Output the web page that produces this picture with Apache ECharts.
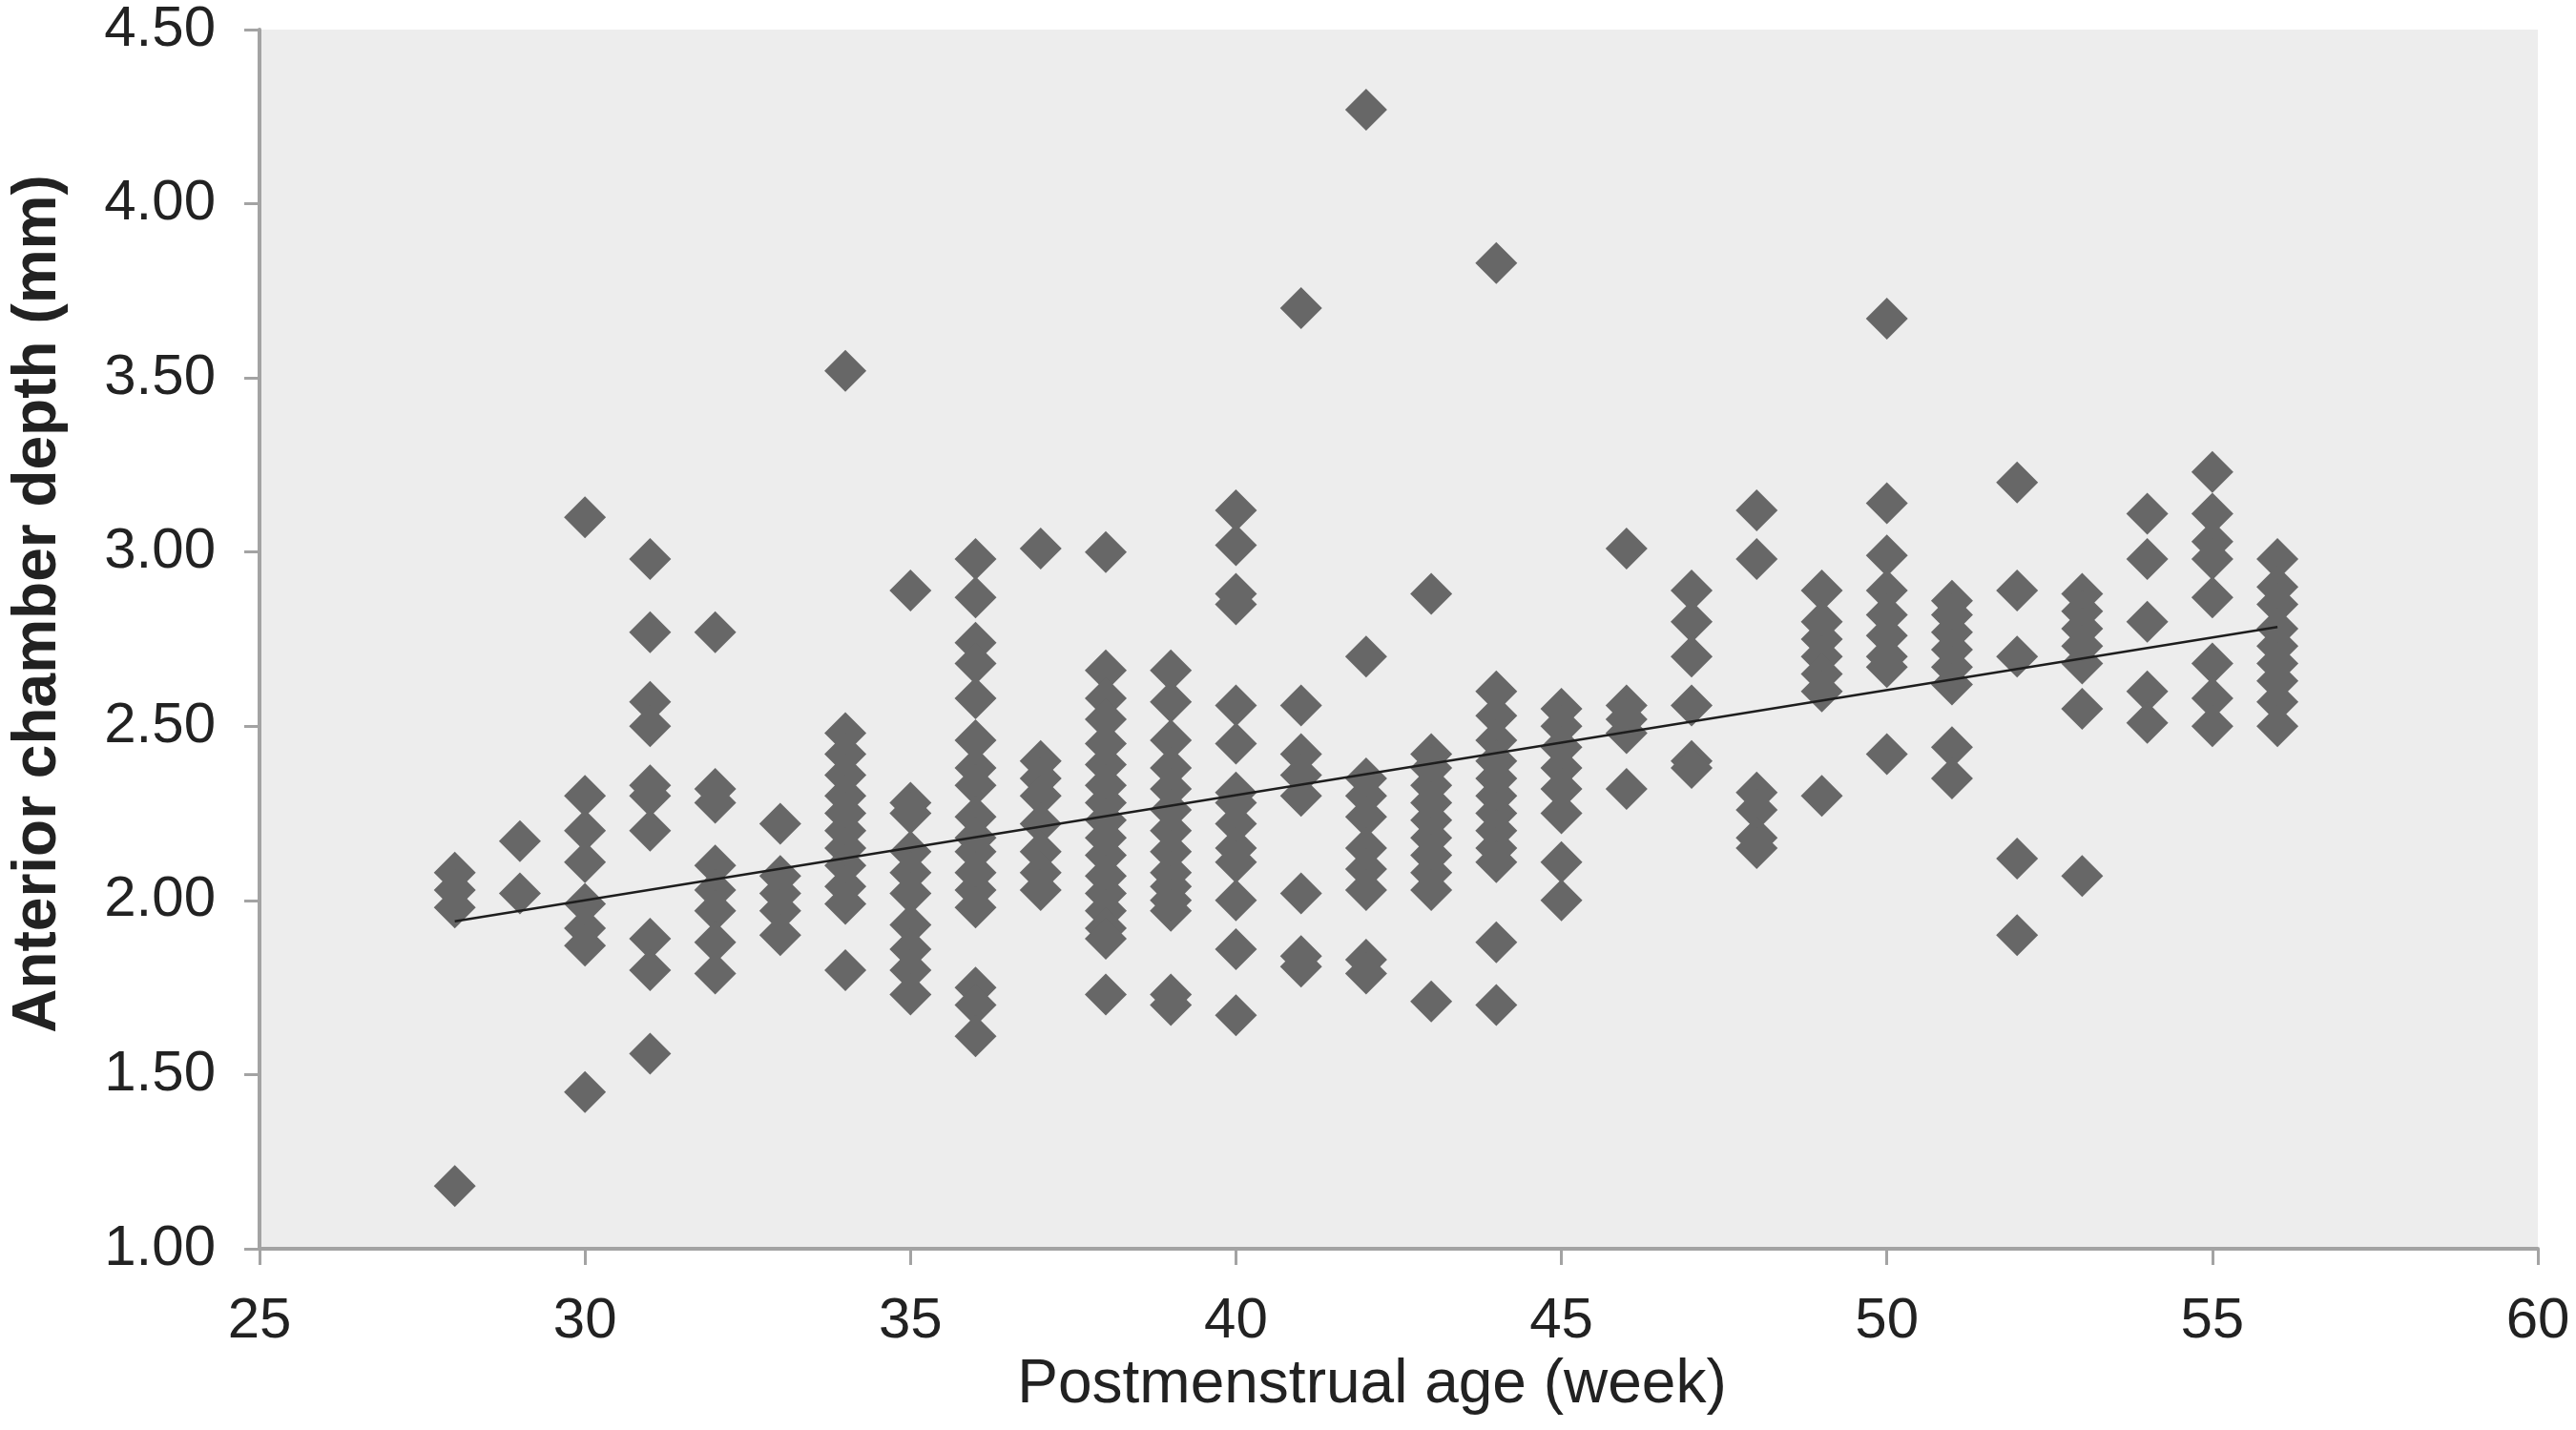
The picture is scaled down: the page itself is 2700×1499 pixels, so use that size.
<!DOCTYPE html>
<html>
<head>
<meta charset="utf-8">
<title>Anterior chamber depth vs postmenstrual age</title>
<script src="https://cdn.jsdelivr.net/npm/echarts@6/dist/echarts.min.js"></script>
<style>
  html, body { margin: 0; padding: 0; background: #ffffff; }
  #chart { width: 2700px; height: 1499px; }
</style>
</head>
<body>
<div id="chart"></div>
<script>
// ---- Data ----
const ageWeeks = [28, 29, 30, 31, 32, 33, 34, 35, 36, 37, 38, 39, 40, 41, 42, 43, 44, 45, 46, 47, 48, 49, 50, 51, 52, 53, 54, 55, 56];

const depthByWeek = [
  [2.08, 2.03, 1.98, 1.18],                                                             // 28
  [2.17, 2.02],                                                                         // 29
  [3.10, 2.30, 2.20, 2.11, 1.99, 1.92, 1.87, 1.45],                                     // 30
  [2.98, 2.77, 2.57, 2.50, 2.33, 2.30, 2.20, 1.89, 1.80, 1.56],                         // 31
  [2.77, 2.32, 2.28, 2.10, 2.03, 1.97, 1.88, 1.79],                                     // 32
  [2.22, 2.07, 2.02, 1.97, 1.90],                                                       // 33
  [3.52, 2.48, 2.42, 2.36, 2.30, 2.25, 2.20, 2.15, 2.10, 2.04, 1.99, 1.80],             // 34
  [2.89, 2.28, 2.25, 2.14, 2.08, 2.02, 1.93, 1.86, 1.80, 1.73],                         // 35
  [2.98, 2.87, 2.74, 2.68, 2.58, 2.46, 2.38, 2.33, 2.24, 2.18, 2.14, 2.08, 2.03, 1.98, 1.75, 1.70, 1.61], // 36
  [3.01, 2.40, 2.35, 2.30, 2.22, 2.14, 2.08, 2.03],                                     // 37
  [3.00, 2.66, 2.58, 2.52, 2.45, 2.39, 2.33, 2.28, 2.23, 2.18, 2.13, 2.07, 2.02, 1.97, 1.92, 1.89, 1.73], // 38
  [2.66, 2.57, 2.46, 2.38, 2.32, 2.26, 2.20, 2.14, 2.08, 2.04, 2.00, 1.97, 1.73, 1.70], // 39
  [3.12, 3.02, 2.88, 2.85, 2.56, 2.45, 2.31, 2.28, 2.22, 2.15, 2.11, 2.00, 1.86, 1.67], // 40
  [3.70, 2.56, 2.42, 2.36, 2.30, 2.02, 1.84, 1.81],                                     // 41
  [4.27, 2.70, 2.35, 2.30, 2.24, 2.15, 2.09, 2.03, 1.83, 1.79],                         // 42
  [2.88, 2.42, 2.38, 2.33, 2.28, 2.23, 2.18, 2.13, 2.08, 2.03, 1.71],                   // 43
  [3.83, 2.60, 2.53, 2.46, 2.40, 2.35, 2.30, 2.25, 2.20, 2.15, 2.11, 1.88, 1.70],       // 44
  [2.55, 2.50, 2.44, 2.38, 2.32, 2.25, 2.11, 2.00],                                     // 45
  [3.01, 2.56, 2.52, 2.48, 2.32],                                                       // 46
  [2.89, 2.80, 2.70, 2.56, 2.40, 2.38],                                                 // 47
  [3.12, 2.98, 2.31, 2.26, 2.18, 2.15],                                                 // 48
  [2.89, 2.80, 2.75, 2.70, 2.65, 2.60, 2.30],                                           // 49
  [3.67, 3.14, 2.99, 2.89, 2.82, 2.76, 2.70, 2.67, 2.42],                               // 50
  [2.86, 2.82, 2.77, 2.72, 2.67, 2.62, 2.44, 2.35],                                     // 51
  [3.20, 2.89, 2.70, 2.12, 1.90],                                                       // 52
  [2.88, 2.83, 2.78, 2.73, 2.68, 2.55, 2.07],                                           // 53
  [3.11, 2.98, 2.80, 2.60, 2.51],                                                       // 54
  [3.23, 3.11, 3.03, 2.98, 2.87, 2.68, 2.58, 2.50],                                     // 55
  [2.98, 2.90, 2.85, 2.78, 2.73, 2.68, 2.63, 2.57, 2.50]                                // 56
];

// Linear trend line end points
const trendAges = [28, 56];
const trendDepths = [1.94, 2.785];

const xTicks = [25, 30, 35, 40, 45, 50, 55, 60];
const yTicks = [1.00, 1.50, 2.00, 2.50, 3.00, 3.50, 4.00, 4.50];

// ---- Build series data ----
const scatterData = [];
ageWeeks.forEach((age, i) => {
  depthByWeek[i].forEach(v => scatterData.push([age, v]));
});
const trendData = trendAges.map((a, i) => [a, trendDepths[i]]);

const chart = echarts.init(document.getElementById('chart'), null, { renderer: 'canvas' });

const axisGray = '#a3a3a3';
const labelFont = 'Liberation Sans, Arial, sans-serif';

chart.setOption({
  backgroundColor: '#ffffff',
  animation: false,
  grid: {
    left: 272, right: 40, top: 31, bottom: 190,
    show: true,
    backgroundColor: '#ededed',
    borderWidth: 0
  },
  xAxis: {
    type: 'value',
    min: xTicks[0],
    max: xTicks[xTicks.length - 1],
    interval: 5,
    name: 'Postmenstrual age (week)',
    nameLocation: 'middle',
    nameGap: 98,
    nameTextStyle: { fontFamily: labelFont, fontSize: 64, color: '#222222', padding: [0, 56, 0, 0] },
    axisLine: { show: true, onZero: false, lineStyle: { color: axisGray, width: 4 } },
    axisTick: { show: true, inside: false, length: 17, lineStyle: { color: axisGray, width: 3 } },
    axisLabel: { fontFamily: labelFont, fontSize: 60, color: '#222222', margin: 46 },
    splitLine: { show: false }
  },
  yAxis: {
    type: 'value',
    min: yTicks[0],
    max: yTicks[yTicks.length - 1],
    interval: 0.5,
    name: 'Anterior chamber depth (mm)',
    nameLocation: 'middle',
    nameGap: 200,
    nameTextStyle: { fontFamily: labelFont, fontSize: 64, fontWeight: 'bold', color: '#222222', padding: [0, 0, 0, 74] },
    axisLine: { show: true, onZero: false, lineStyle: { color: axisGray, width: 4 } },
    axisTick: { show: true, inside: false, length: 16, lineStyle: { color: axisGray, width: 3 } },
    axisLabel: {
      fontFamily: labelFont, fontSize: 60, color: '#222222', margin: 46,
      formatter: v => v.toFixed(2)
    },
    splitLine: { show: false }
  },
  series: [
    {
      type: 'scatter',
      data: scatterData,
      symbol: 'diamond',
      symbolSize: [44, 44],
      itemStyle: { color: '#676767', opacity: 1 },
      z: 2
    },
    {
      type: 'line',
      data: trendData,
      symbol: 'none',
      lineStyle: { color: '#1e1e1e', width: 2.5 },
      z: 3
    }
  ]
});
</script>
</body>
</html>
